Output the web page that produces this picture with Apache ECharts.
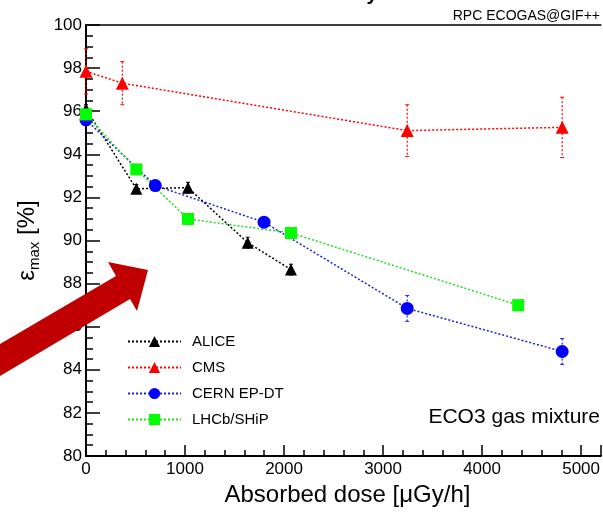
<!DOCTYPE html>
<html>
<head>
<meta charset="utf-8">
<script src="https://cdn.jsdelivr.net/npm/echarts@6/dist/echarts.min.js"></script>
<style>
  html, body { margin: 0; padding: 0; background: #fff; }
  #chart-container { width: 603px; height: 512px; }
</style>
</head>
<body>
<div id="chart-container"></div>
<script>
// 数据：吸收剂量 (μGy/h) 与最大效率 (%)
var aliceDose = [0, 508, 1030, 1633, 2070];
var aliceEff = [96.1, 92.4, 92.45, 89.9, 88.65];
var aliceErr = [0.2, 0.2, 0.25, 0.25, 0.25];

var cmsDose = [0, 367, 3244, 4809];
var cmsEff = [97.85, 97.3, 95.1, 95.25];
var cmsErr = [1.05, 1.0, 1.2, 1.4];

var cernDose = [0, 700, 1798, 3244, 4809];
var cernEff = [95.6, 92.55, 90.85, 86.85, 84.85];
var cernErr = [0.1, 0.1, 0.15, 0.6, 0.6];

var lhcbDose = [0, 508, 1030, 2070, 4365];
var lhcbEff = [95.85, 93.3, 91.0, 90.35, 87.0];
var lhcbErr = [0.1, 0.1, 0.1, 0.1, 0.2];

var seriesNames = ['ALICE', 'CMS', 'CERN EP-DT', 'LHCb/SHiP'];

var container = document.getElementById('chart-container');
var myChart = echarts.init(container);

var FONT = 'Liberation Sans, Arial, sans-serif';

function pairs(xs, ys) {
    return xs.map(function (x, i) { return [x, ys[i]]; });
}

function triples(xs, ys, es) {
    return xs.map(function (x, i) { return [x, ys[i], es[i]]; });
}

// 误差棒（自定义系列）
function errorBars(data, color) {
    return {
        type: 'custom',
        z: 1,
        silent: true,
        data: data,
        encode: { x: 0, y: 1 },
        renderItem: function (params, api) {
            var x = api.value(0), y = api.value(1), e = api.value(2);
            var hi = api.coord([x, y + e]);
            var lo = api.coord([x, y - e]);
            var st = { stroke: color, lineWidth: 1.2, lineDash: [2, 2] };
            return {
                type: 'group',
                children: [
                    { type: 'line', shape: { x1: hi[0], y1: hi[1], x2: lo[0], y2: lo[1] }, style: st },
                    { type: 'line', shape: { x1: hi[0] - 2, y1: hi[1], x2: hi[0] + 2, y2: hi[1] }, style: { stroke: color, lineWidth: 1 } },
                    { type: 'line', shape: { x1: lo[0] - 2, y1: lo[1], x2: lo[0] + 2, y2: lo[1] }, style: { stroke: color, lineWidth: 1 } }
                ]
            };
        }
    };
}

function lineSeries(name, data, color, lineColor, symbol, size) {
    return {
        name: name,
        type: 'line',
        data: data,
        symbol: symbol,
        symbolSize: size,
        z: 3,
        itemStyle: { color: color },
        lineStyle: { color: lineColor, width: 1.5, type: [2, 2] }
    };
}

var option = {
    animation: false,
    backgroundColor: '#fff',
    textStyle: { fontFamily: FONT },
    grid: { left: 86, top: 25, right: 1, bottom: 54 },
    legend: {
        data: seriesNames,
        orient: 'vertical',
        left: 127,
        top: 334,
        padding: 0,
        itemWidth: 53,
        itemHeight: 14,
        itemGap: 11,
        textStyle: { fontFamily: FONT, fontSize: 15, color: '#000', padding: [0, 0, 0, 6] }
    },
    xAxis: [
        {
            type: 'value',
            min: 0,
            max: 5200,
            interval: 1000,
            name: 'Absorbed dose [\u03bcGy/h]',
            nameLocation: 'middle',
            nameGap: 27,
            nameTextStyle: { fontFamily: FONT, fontSize: 24, color: '#000', padding: [0, 0, 0, 8] },
            axisLine: { show: true, onZero: false, lineStyle: { color: '#000', width: 2 } },
            axisTick: { show: true, inside: true, length: 11, lineStyle: { color: '#000', width: 1.5 } },
            minorTick: { show: true, splitNumber: 5, length: 6, lineStyle: { color: '#000', width: 1.5 } },
            axisLabel: {
                fontFamily: FONT, fontSize: 17, color: '#000', margin: 5, showMaxLabel: false,
                formatter: function (v) { return String(v); }
            },
            splitLine: { show: false }
        },
        {
            type: 'value',
            position: 'top',
            min: 0,
            max: 5200,
            axisLine: { show: true, onZero: false, lineStyle: { color: '#000', width: 1.5 } },
            axisTick: { show: false },
            axisLabel: { show: false },
            splitLine: { show: false }
        }
    ],
    yAxis: {
        type: 'value',
        min: 80,
        max: 100,
        interval: 2,
        name: '{a|\u03b5}{b|max}{a| [%]}',
        nameLocation: 'middle',
        nameGap: 32,
        nameTextStyle: {
            rich: {
                a: { fontFamily: FONT, fontSize: 24, color: '#000', lineHeight: 30 },
                b: { fontFamily: FONT, fontSize: 15, color: '#000', lineHeight: 12, verticalAlign: 'bottom' }
            }
        },
        axisLine: { show: true, onZero: false, lineStyle: { color: '#000', width: 2 } },
        axisTick: { show: true, inside: true, length: 14, lineStyle: { color: '#000', width: 1.5 } },
        minorTick: { show: true, splitNumber: 4, length: 7, lineStyle: { color: '#000', width: 1.5 } },
        axisLabel: { fontFamily: FONT, fontSize: 17, color: '#000', margin: 4 },
        splitLine: { show: false }
    },
    graphic: [
        {
            type: 'text', left: 213, top: -16, z: 10,
            style: { text: 'ECO3 - efficiency vs dose', font: 'bold 20px ' + FONT, fill: '#000' }
        },
        {
            type: 'text', right: 3, top: 9, z: 10,
            style: { text: 'RPC ECOGAS@GIF++', font: '14px ' + FONT, fill: '#000' }
        },
        {
            type: 'text', right: 3, top: 407, z: 10,
            style: { text: 'ECO3 gas mixture', font: '21px ' + FONT, fill: '#000' }
        },
        {
            // 红色箭头标注
            type: 'polygon', z: 100,
            shape: { points: [[148, 270], [108, 262], [116, 276], [-5, 347], [-5, 379], [130, 299], [137, 311]] },
            style: { fill: '#c00000' }
        }
    ],
    series: [
        errorBars(triples(aliceDose, aliceEff, aliceErr), '#000'),
        errorBars(triples(cmsDose, cmsEff, cmsErr), '#ff0000'),
        errorBars(triples(cernDose, cernEff, cernErr), '#2222dd'),
        errorBars(triples(lhcbDose, lhcbEff, lhcbErr), '#22ee22'),
        lineSeries('ALICE', pairs(aliceDose, aliceEff), '#000', '#000', 'triangle', 12),
        lineSeries('CMS', pairs(cmsDose, cmsEff), '#ff0000', '#ff0000', 'triangle', 13),
        lineSeries('CERN EP-DT', pairs(cernDose, cernEff), '#0000ff', '#2222cc', 'circle', 13),
        lineSeries('LHCb/SHiP', pairs(lhcbDose, lhcbEff), '#00ff00', '#22dd22', 'rect', 12)
    ]
};

myChart.setOption(option);
</script>
</body>
</html>
